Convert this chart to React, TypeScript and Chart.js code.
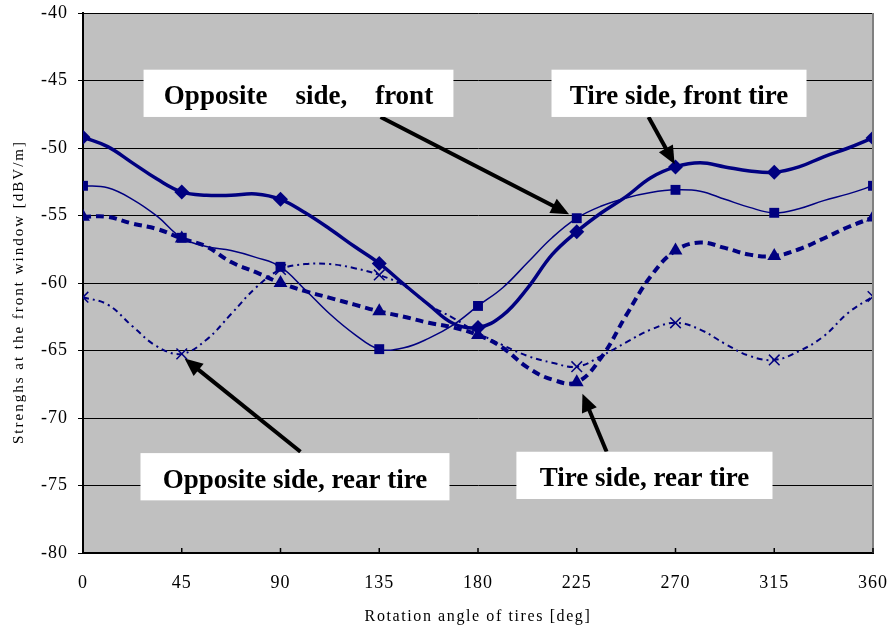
import React, { useEffect, useRef } from "react";
import { Chart, registerables } from "chart.js";

Chart.register(...registerables);

// ---- data ----
const angles = [0, 11.25, 22.5, 33.75, 45, 56.25, 67.5, 78.75, 90, 101.25, 112.5, 123.75, 135, 146.25, 157.5, 168.75, 180, 191.25, 202.5, 213.75, 225, 236.25, 247.5, 258.75, 270, 281.25, 292.5, 303.75, 315, 326.25, 337.5, 348.75, 360];

// Tire side, front tire (diamond, thick solid)
const tireFront = [-49.2, -49.9, -51.1, -52.3, -53.25, -53.5, -53.5, -53.4, -53.8, -54.8, -56.0, -57.3, -58.55, -60.1, -61.6, -63.0, -63.3, -62.4, -60.4, -57.9, -56.2, -54.8, -53.6, -52.2, -51.4, -51.1, -51.4, -51.7, -51.8, -51.4, -50.65, -50.0, -49.25];

// Opposite side, front tire (square, thin solid)
const oppFront = [-52.8, -52.95, -53.8, -55.05, -56.65, -57.3, -57.6, -58.1, -58.8, -60.5, -62.3, -63.8, -64.9, -64.8, -64.1, -63.1, -61.7, -60.35, -58.5, -56.65, -55.2, -54.3, -53.7, -53.3, -53.1, -53.2, -53.8, -54.4, -54.8, -54.5, -53.9, -53.4, -52.8];

// Tire side, rear tire (triangle, thick dashed)
const tireRear = [-55.1, -55.1, -55.6, -56.0, -56.7, -57.3, -58.45, -59.2, -60.0, -60.6, -61.1, -61.6, -62.1, -62.5, -62.95, -63.3, -63.85, -64.8, -66.25, -67.15, -67.35, -65.5, -62.4, -59.5, -57.6, -57.0, -57.4, -57.9, -58.0, -57.5, -56.7, -55.85, -55.15];

// Opposite side, rear tire (cross, dotted)
const oppRear = [-61.05, -61.6, -63.2, -64.7, -65.25, -64.2, -62.3, -60.35, -59.0, -58.6, -58.6, -58.9, -59.4, -60.2, -61.6, -62.6, -63.7, -64.6, -65.4, -65.9, -66.2, -65.4, -64.4, -63.45, -62.95, -63.45, -64.5, -65.4, -65.7, -65.05, -63.95, -62.2, -61.0];

const xTicks = [0, 45, 90, 135, 180, 225, 270, 315, 360];
const yMin = -80;
const yMax = -40;

const xTitle = "Rotation angle of tires [deg]";
const yTitle = "Strenghs at the front window [dBV/m]";

// annotation boxes (data coordinates)
const labelBoxes = [
  { words: ["Opposite", "side,", "front"], x0: 27.6, x1: 168.8, y0: -44.2, y1: -47.7 },
  { words: ["Tire side, front tire"], x0: 213.5, x1: 329.7, y0: -44.2, y1: -47.7 },
  { words: ["Opposite side, rear tire"], x0: 26.2, x1: 167.0, y0: -72.6, y1: -76.1 },
  { words: ["Tire side, rear tire"], x0: 197.5, x1: 314.2, y0: -72.5, y1: -76.0 },
];
const arrows = [
  { from: [135.6, -47.7], to: [221.5, -54.9] },
  { from: [257.7, -47.7], to: [269.6, -51.2] },
  { from: [99.1, -72.5], to: [46.3, -65.6] },
  { from: [238.6, -72.5], to: [227.6, -68.2] },
];

const NAVY = "#000080";
const SERIF = '"Liberation Serif", "Times New Roman", serif';

const pts = (vals: number[]) => angles.map((a, i) => ({ x: a, y: vals[i] }));
const marker = (r: number) => (c: any) => (c.raw && c.raw.x % 45 === 0 ? r : 0);

function drawArrow(ctx: CanvasRenderingContext2D, x0: number, y0: number, x1: number, y1: number) {
  const ang = Math.atan2(y1 - y0, x1 - x0);
  const headLen = 18;
  const headW = 8;
  const bx = x1 - headLen * Math.cos(ang);
  const by = y1 - headLen * Math.sin(ang);
  ctx.save();
  ctx.strokeStyle = "#000";
  ctx.fillStyle = "#000";
  ctx.lineWidth = 4;
  ctx.beginPath();
  ctx.moveTo(x0, y0);
  ctx.lineTo(bx + 2 * Math.cos(ang), by + 2 * Math.sin(ang));
  ctx.stroke();
  ctx.beginPath();
  ctx.moveTo(x1, y1);
  ctx.lineTo(bx - headW * Math.sin(ang), by + headW * Math.cos(ang));
  ctx.lineTo(bx + headW * Math.sin(ang), by - headW * Math.cos(ang));
  ctx.closePath();
  ctx.fill();
  ctx.restore();
}

const noPad = (s: any) => {
  s.paddingLeft = 0;
  s.paddingRight = 0;
  s.paddingTop = 0;
  s.paddingBottom = 0;
};

const decorPlugin = {
  id: "decor",
  beforeDraw(chart: any) {
    const { ctx, chartArea } = chart;
    ctx.save();
    ctx.fillStyle = "#ffffff";
    ctx.fillRect(0, 0, chart.width, chart.height);
    ctx.fillStyle = "#C0C0C0";
    ctx.fillRect(chartArea.left, chartArea.top, chartArea.right - chartArea.left, chartArea.bottom - chartArea.top);
    ctx.restore();
    (ctx as any).letterSpacing = "1px";
  },
  afterDatasetsDraw(chart: any) {
    const { ctx, chartArea, scales } = chart;
    const xs = scales.x;
    const ys = scales.y;
    ctx.save();
    // right border
    ctx.strokeStyle = "#808080";
    ctx.lineWidth = 2;
    ctx.beginPath();
    ctx.moveTo(chartArea.right, chartArea.top);
    ctx.lineTo(chartArea.right, chartArea.bottom);
    ctx.stroke();
    // inner x ticks
    ctx.strokeStyle = "#000";
    ctx.lineWidth = 1.5;
    xTicks.forEach((v) => {
      const px = xs.getPixelForValue(v);
      ctx.beginPath();
      ctx.moveTo(px, chartArea.bottom - 5);
      ctx.lineTo(px, chartArea.bottom);
      ctx.stroke();
    });
    // arrows
    arrows.forEach((a) => {
      drawArrow(
        ctx,
        xs.getPixelForValue(a.from[0]),
        ys.getPixelForValue(a.from[1]),
        xs.getPixelForValue(a.to[0]),
        ys.getPixelForValue(a.to[1])
      );
    });
    // label boxes
    labelBoxes.forEach((b) => {
      const l = xs.getPixelForValue(b.x0);
      const r = xs.getPixelForValue(b.x1);
      const t = ys.getPixelForValue(b.y0);
      const bt = ys.getPixelForValue(b.y1);
      ctx.fillStyle = "#ffffff";
      ctx.fillRect(l, t, r - l, bt - t);
      ctx.fillStyle = "#000";
      ctx.font = `bold 27px ${SERIF}`;
      (ctx as any).letterSpacing = "0px";
      ctx.textBaseline = "middle";
      const cy = (t + bt) / 2 + 4;
      const cx = (l + r) / 2;
      const gap = 28;
      const widths = b.words.map((w) => ctx.measureText(w).width);
      const total = widths.reduce((s, w) => s + w, 0) + gap * (b.words.length - 1);
      let x = cx - total / 2;
      ctx.textAlign = "left";
      b.words.forEach((w, i) => {
        ctx.fillText(w, x, cy);
        x += widths[i] + gap;
      });
    });
    ctx.restore();
  },
  afterDraw(chart: any) {
    const { ctx, chartArea } = chart;
    ctx.save();
    ctx.fillStyle = "#000";
    ctx.textAlign = "center";
    ctx.textBaseline = "middle";
    ctx.font = `16px ${SERIF}`;
    (ctx as any).letterSpacing = "1.6px";
    ctx.fillText(xTitle, (chartArea.left + chartArea.right) / 2, 617);
    ctx.translate(19, 292);
    ctx.rotate(-Math.PI / 2);
    ctx.font = `15px ${SERIF}`;
    (ctx as any).letterSpacing = "2px";
    ctx.fillText(yTitle, 0, 0);
    ctx.restore();
    (ctx as any).letterSpacing = "0px";
  },
};

export default function App() {
  const ref = useRef<HTMLCanvasElement>(null);
  useEffect(() => {
    document.body.style.margin = "0";
    const canvas = ref.current!;
    const chart = new Chart(canvas, {
      type: "line",
      data: {
        datasets: [
          {
            label: "Tire side, rear tire",
            data: pts(tireRear),
            borderColor: NAVY,
            backgroundColor: NAVY,
            borderWidth: 4,
            borderDash: [8, 5],
            pointStyle: "triangle",
            pointRadius: marker(8),
            pointBorderWidth: 0,
            tension: 0.4,
          },
          {
            label: "Opposite side, rear tire",
            data: pts(oppRear),
            borderColor: NAVY,
            backgroundColor: NAVY,
            borderWidth: 2,
            borderDash: [6, 4, 2, 4],
            pointStyle: "crossRot",
            pointRadius: marker(7.5),
            pointBorderWidth: 1.5,
            pointBorderColor: NAVY,
            tension: 0.4,
          },
          {
            label: "Opposite side, front tire",
            data: pts(oppFront),
            borderColor: NAVY,
            backgroundColor: NAVY,
            borderWidth: 1.5,
            pointStyle: "rect",
            pointRadius: marker(7),
            pointBorderWidth: 0,
            tension: 0.4,
          },
          {
            label: "Tire side, front tire",
            data: pts(tireFront),
            borderColor: NAVY,
            backgroundColor: NAVY,
            borderWidth: 3.5,
            pointStyle: "rectRot",
            pointRadius: marker(7.5),
            pointBorderWidth: 0,
            tension: 0.4,
          },
        ],
      },
      options: {
        animation: false,
        responsive: false,
        devicePixelRatio: 1,
        layout: { padding: { left: 0, right: 15, top: 13, bottom: 0 } },
        plugins: {
          legend: { display: false },
          tooltip: { enabled: false },
        },
        scales: {
          x: {
            type: "linear",
            min: 0,
            max: 360,
            afterFit: (s: any) => {
              s.height = 77;
              noPad(s);
            },
            afterBuildTicks: (s: any) => {
              s.ticks = xTicks.map((v) => ({ value: v }));
            },
            grid: { drawOnChartArea: false, drawTicks: false },
            border: { display: true, color: "#000", width: 2 },
            ticks: {
              color: "#000",
              font: { family: SERIF, size: 18 },
              padding: 19,
              maxRotation: 0,
              autoSkip: false,
            },
          },
          y: {
            type: "linear",
            min: yMin,
            max: yMax,
            afterFit: (s: any) => {
              s.width = 83;
              noPad(s);
            },
            grid: { color: "#000", lineWidth: 1, drawTicks: true, tickLength: 5, tickColor: "#000" },
            border: { display: true, color: "#000", width: 2 },
            ticks: {
              stepSize: 5,
              color: "#000",
              font: { family: SERIF, size: 18 },
              padding: 10,
            },
          },
        },
      },
      plugins: [decorPlugin],
    } as any);
    return () => chart.destroy();
  }, []);
  return <canvas ref={ref} width={888} height={630} style={{ display: "block" }} />;
}
